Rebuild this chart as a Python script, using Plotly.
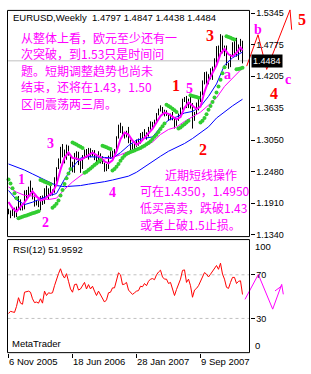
import pandas as pd
import plotly.graph_objects as go

W, H = 311, 374
START = pd.Timestamp("2005-11-06")

# ---------------- weekly EURUSD bars ----------------
opens = [1.1790, 1.1735, 1.1715, 1.1800, 1.1715, 1.1830, 1.1950, 1.1870, 1.1840, 1.2130,
         1.2140, 1.2170, 1.2150, 1.2030, 1.1920, 1.1920, 1.1890, 1.2030, 1.1910, 1.2170,
         1.2020, 1.2120, 1.2110, 1.2120, 1.2340, 1.2540, 1.2700, 1.2900, 1.2820, 1.2700,
         1.2940, 1.2790, 1.2620, 1.2580, 1.2790, 1.2810, 1.2620, 1.2650, 1.2760, 1.2860,
         1.2760, 1.2900, 1.2770, 1.2840, 1.2710, 1.2680, 1.2800, 1.2680, 1.2640, 1.2540,
         1.2580, 1.2720, 1.2740, 1.2840, 1.2830, 1.3100, 1.3280, 1.3290, 1.3130, 1.3140,
         1.3200, 1.3000, 1.2930, 1.2950, 1.2980, 1.2990, 1.3000, 1.3150, 1.3150, 1.3180,
         1.3120, 1.3260, 1.3340, 1.3370, 1.3360, 1.3510, 1.3580, 1.3620, 1.3530, 1.3500,
         1.3520, 1.3460, 1.3480, 1.3420, 1.3330, 1.3440, 1.3520, 1.3620, 1.3780, 1.3810,
         1.3670, 1.3780, 1.3660, 1.3440, 1.3550, 1.3630, 1.3780, 1.3880, 1.4070, 1.4260,
         1.4240, 1.4180, 1.4290, 1.4360, 1.4500, 1.4680, 1.4640, 1.4870, 1.4660, 1.4650,
         1.4430, 1.4400, 1.4590, 1.4750, 1.4780, 1.4620, 1.4680, 1.4797]
highs = [1.1810, 1.1780, 1.1840, 1.1830, 1.1850, 1.2040, 1.1980, 1.1900, 1.2140, 1.2150,
         1.2210, 1.2320, 1.2190, 1.2050, 1.1970, 1.1960, 1.2040, 1.2050, 1.2180, 1.2230,
         1.2180, 1.2290, 1.2160, 1.2380, 1.2560, 1.2720, 1.2930, 1.2980, 1.2880, 1.2970,
         1.2950, 1.2800, 1.2660, 1.2820, 1.2850, 1.2840, 1.2690, 1.2780, 1.2880, 1.2890,
         1.2910, 1.2900, 1.2870, 1.2870, 1.2760, 1.2850, 1.2810, 1.2760, 1.2640, 1.2620,
         1.2770, 1.2850, 1.2860, 1.2890, 1.3120, 1.3330, 1.3365, 1.3300, 1.3200, 1.3220,
         1.3290, 1.3060, 1.2990, 1.3010, 1.3060, 1.3080, 1.3180, 1.3200, 1.3250, 1.3190,
         1.3290, 1.3390, 1.3380, 1.3420, 1.3540, 1.3620, 1.3680, 1.3650, 1.3600, 1.3590,
         1.3520, 1.3530, 1.3560, 1.3440, 1.3450, 1.3530, 1.3640, 1.3800, 1.3830, 1.3850,
         1.3800, 1.3850, 1.3720, 1.3560, 1.3730, 1.3800, 1.3930, 1.4130, 1.4280, 1.4290,
         1.4240, 1.4350, 1.4380, 1.4530, 1.4750, 1.4760, 1.4966, 1.4940, 1.4760, 1.4760,
         1.4450, 1.4600, 1.4820, 1.4840, 1.4900, 1.4780, 1.4880, 1.4847]
lows = [1.1711, 1.1640, 1.1680, 1.1650, 1.1660, 1.1800, 1.1780, 1.1780, 1.1800, 1.1990,
        1.2040, 1.2110, 1.1980, 1.1850, 1.1870, 1.1840, 1.1780, 1.1880, 1.1900, 1.2010,
        1.1980, 1.2040, 1.2050, 1.2100, 1.2300, 1.2530, 1.2630, 1.2740, 1.2630, 1.2700,
        1.2770, 1.2530, 1.2470, 1.2460, 1.2690, 1.2600, 1.2460, 1.2530, 1.2720, 1.2730,
        1.2700, 1.2740, 1.2760, 1.2690, 1.2640, 1.2650, 1.2630, 1.2620, 1.2480, 1.2490,
        1.2530, 1.2710, 1.2720, 1.2760, 1.2820, 1.3080, 1.3180, 1.3110, 1.3080, 1.3100,
        1.3000, 1.2870, 1.2880, 1.2880, 1.2930, 1.2950, 1.2990, 1.3080, 1.3080, 1.3060,
        1.3120, 1.3240, 1.3260, 1.3300, 1.3350, 1.3500, 1.3570, 1.3520, 1.3480, 1.3490,
        1.3400, 1.3410, 1.3410, 1.3260, 1.3310, 1.3400, 1.3510, 1.3600, 1.3740, 1.3630,
        1.3630, 1.3620, 1.3260, 1.3400, 1.3520, 1.3590, 1.3740, 1.3860, 1.4060, 1.4070,
        1.4060, 1.4150, 1.4140, 1.4340, 1.4450, 1.4520, 1.4640, 1.4620, 1.4570, 1.4400,
        1.4340, 1.4370, 1.4570, 1.4580, 1.4560, 1.4500, 1.4640, 1.4438]
closes = [1.1735, 1.1715, 1.1800, 1.1715, 1.1830, 1.1950, 1.1870, 1.1840, 1.2130, 1.2140,
          1.2170, 1.2150, 1.2030, 1.1920, 1.1920, 1.1890, 1.2030, 1.1910, 1.2170, 1.2020,
          1.2120, 1.2110, 1.2120, 1.2340, 1.2540, 1.2700, 1.2900, 1.2820, 1.2700, 1.2940,
          1.2790, 1.2620, 1.2580, 1.2790, 1.2810, 1.2620, 1.2650, 1.2760, 1.2860, 1.2760,
          1.2900, 1.2770, 1.2840, 1.2710, 1.2680, 1.2800, 1.2680, 1.2640, 1.2540, 1.2580,
          1.2720, 1.2740, 1.2840, 1.2830, 1.3100, 1.3280, 1.3290, 1.3130, 1.3140, 1.3200,
          1.3000, 1.2930, 1.2950, 1.2980, 1.2990, 1.3000, 1.3150, 1.3150, 1.3180, 1.3120,
          1.3260, 1.3340, 1.3370, 1.3360, 1.3510, 1.3580, 1.3620, 1.3530, 1.3500, 1.3520,
          1.3460, 1.3480, 1.3420, 1.3330, 1.3440, 1.3520, 1.3620, 1.3780, 1.3810, 1.3670,
          1.3780, 1.3660, 1.3440, 1.3550, 1.3630, 1.3780, 1.3880, 1.4070, 1.4260, 1.4240,
          1.4180, 1.4290, 1.4360, 1.4500, 1.4680, 1.4640, 1.4870, 1.4660, 1.4650, 1.4430,
          1.4400, 1.4590, 1.4750, 1.4780, 1.4620, 1.4680, 1.4800, 1.4484]

# moving averages (week offset, value)
ma_fast_weeks = list(range(0, 117, 2)) + [117]
ma_fast = [1.1933, 1.1824, 1.1759, 1.1833, 1.1924, 1.2030, 1.2124, 1.2038, 1.1958, 1.1984,
           1.2050, 1.2108, 1.2246, 1.2520, 1.2732, 1.2830, 1.2726, 1.2718, 1.2690, 1.2740,
           1.2786, 1.2826, 1.2780, 1.2742, 1.2668, 1.2632, 1.2684, 1.2846, 1.3068, 1.3188,
           1.3152, 1.3044, 1.2970, 1.3014, 1.3094, 1.3172, 1.3254, 1.3368, 1.3488, 1.3548,
           1.3526, 1.3476, 1.3426, 1.3466, 1.3634, 1.3732, 1.3672, 1.3612, 1.3656, 1.3924,
           1.4126, 1.4266, 1.4402, 1.4610, 1.4700, 1.4602, 1.4564, 1.4628, 1.4726, 1.4673]
ma_slow_weeks = list(range(0, 113, 4)) + [117]
ma_mid_blue = [1.2141, 1.1973, 1.1886, 1.1929, 1.1990, 1.2046, 1.2086, 1.2345, 1.2560, 1.2728,
               1.2752, 1.2748, 1.2738, 1.2726, 1.2825, 1.2953, 1.3051, 1.3084, 1.3109, 1.3279,
               1.3412, 1.3471, 1.3541, 1.3570, 1.3658, 1.3842, 1.4066, 1.4406, 1.4538, 1.4643]
ma_thin_magenta = [1.2205, 1.2112, 1.2053, 1.2042, 1.2003, 1.1977, 1.2002, 1.2160, 1.2296, 1.2402,
                   1.2516, 1.2627, 1.2712, 1.2736, 1.2787, 1.2847, 1.2890, 1.2942, 1.3015, 1.3153,
                   1.3244, 1.3287, 1.3389, 1.3475, 1.3557, 1.3683, 1.3815, 1.4021, 1.4167, 1.4354]
ma_long_blue = [1.2620, 1.2570, 1.2510, 1.2440, 1.2370, 1.2300, 1.2230, 1.2210, 1.2215, 1.2230,
                1.2255, 1.2275, 1.2300, 1.2330, 1.2360, 1.2400, 1.2470, 1.2570, 1.2660, 1.2760,
                1.2850, 1.2920, 1.2990, 1.3080, 1.3180, 1.3290, 1.3450, 1.3560, 1.3670, 1.3790]

# parabolic SAR dots, one per bar
sar = [1.2340, 1.2265, 1.2180, 1.2090, 1.2000,
       1.1640, 1.1652, 1.1665, 1.1678, 1.1690, 1.1703, 1.1715, 1.1728, 1.1740, 1.1753, 1.1765,
       1.2330, 1.2315, 1.2300, 1.2285, 1.2270, 1.2255,
       1.1830, 1.1860, 1.1900, 1.1960, 1.2050, 1.2150, 1.2260, 1.2360, 1.2450, 1.2530,
       1.3010, 1.2990, 1.2970, 1.2950, 1.2930, 1.2910,
       1.2460, 1.2480, 1.2510, 1.2540, 1.2570, 1.2600, 1.2630, 1.2660, 1.2690,
       1.2950, 1.2935, 1.2920, 1.2905, 1.2890,
       1.2500, 1.2530, 1.2570, 1.2620, 1.2680, 1.2730, 1.2770, 1.2800, 1.2820, 1.2835,
       1.2850, 1.2865, 1.2880, 1.2895, 1.2910, 1.2930, 1.2950, 1.2975, 1.3000, 1.3030,
       1.3070, 1.3110, 1.3150, 1.3200, 1.3250, 1.3300, 1.3350,
       1.3690, 1.3670, 1.3645, 1.3620, 1.3590, 1.3560,
       1.3260, 1.3280, 1.3310, 1.3340, 1.3370, 1.3400,
       1.3860, 1.3850, 1.3840, 1.3830, 1.3815,
       1.3370, 1.3400, 1.3450, 1.3520, 1.3600, 1.3670, 1.3740, 1.3820, 1.3910, 1.4020,
       1.4140, 1.4260, 1.4370,
       1.4930, 1.4915, 1.4900, 1.4885, 1.4870,
       1.4330, 1.4335, 1.4345, 1.4360]

# RSI(12), one per bar
rsi = [34.5, 36.5, 36.0, 35.5, 41.0, 49.0, 44.0, 43.0, 54.0, 54.5,
       55.0, 54.0, 48.0, 44.5, 45.0, 44.0, 48.0, 44.0, 55.0, 51.0,
       53.5, 53.0, 53.5, 60.0, 66.0, 71.0, 75.5, 70.0, 67.0, 71.0,
       64.0, 57.0, 54.0, 61.0, 61.5, 56.0, 57.0, 60.0, 63.0, 57.0,
       61.0, 57.0, 59.5, 55.0, 51.0, 55.0, 52.0, 49.0, 45.0, 47.0,
       53.5, 54.0, 58.0, 58.0, 65.0, 71.8, 70.0, 61.0, 61.5, 63.0,
       56.0, 53.5, 52.0, 53.5, 55.0, 55.5, 59.5, 59.0, 62.0, 60.0,
       64.0, 66.0, 66.5, 65.5, 70.0, 72.5, 74.2, 68.0, 66.0, 66.0,
       62.0, 63.0, 56.0, 51.0, 56.5, 61.0, 66.0, 74.0, 74.5, 63.0,
       66.0, 60.0, 49.4, 56.0, 57.5, 60.0, 64.0, 69.0, 72.0, 70.6,
       68.0, 70.5, 73.0, 76.0, 78.5, 75.0, 80.6, 70.6, 66.0, 58.5,
       57.5, 63.0, 67.6, 67.6, 62.0, 64.0, 64.5, 51.96]

# hand-drawn projections (week offset, value)
wave_weeks = [119.1, 124.75, 129.1, 140.75, 141.6]
wave_prices = [1.4388, 1.4956, 1.4329, 1.5404, 1.5046]
rsi_proj_weeks = [118.25, 124.9, 132.1, 136.6, 137.4]
rsi_proj_vals = [47.5, 70.3, 38.5, 61.2, 52.1]
rsi_proj_tick_weeks = [133.25, 136.6]
rsi_proj_tick_vals = [55.2, 59.7]

price_ticks = [1.5345, 1.4775, 1.4205, 1.3635, 1.3050, 1.2480, 1.1910, 1.1340]
price_tick_text = ["1.5345", "1.4775", "1.4205", "1.3635", "1.3050", "1.2480", "1.1910", "1.1340"]
date_ticks = ["2005-11-06", "2006-06-18", "2007-01-28", "2007-09-09"]
date_tick_text = ["6 Nov 2005", "18 Jun 2006", "28 Jan 2007", "9 Sep 2007"]
rsi_ticks = [70, 30]
rsi_tick_text = ["70", "30"]
last_price = 1.4484
header = "EURUSD,Weekly\u00a0\u00a01.4797 1.4847 1.4438 1.4484"
rsi_label = "RSI(12) 51.9592"

note_left = ["从整体上看，欧元至少还有一", "次突破，到1.53只是时间问",
             "题。短期调整趋势也尚未", "结束，还将在1.43，1.50", "区间震荡两三周。"]
note_right_title = "近期短线操作"
note_right = ["可在1.4350，1.4950", "低买高卖，跌破1.43", "或者上破1.5止损。"]

# ---------------- geometry ----------------
BAR0_PX, PX_PER_WEEK = 8.5, 2.0
P_REF, PY_REF, PX_PER_UNIT = 1.5345, 13.3, 557.8
R0_PY, PX_PER_R = 354.0, 1.1
BOX_L, BOX_R = 7.5, 249.5
MAIN_T, MAIN_B = 10.5, 238.5
RSI_T, RSI_B = 241.5, 355.5


def wk(w):
    return START + pd.Timedelta(days=7 * w)


def fx(px):
    return px / W


def fy(py):
    return 1 - py / H


def price_at(py):
    return P_REF - (py - PY_REF) / PX_PER_UNIT


def rsi_at(py):
    return (R0_PY - py) / PX_PER_R


dates = [wk(i) for i in range(len(closes))]
x_range = [wk(-BAR0_PX / PX_PER_WEEK), wk((W - BAR0_PX) / PX_PER_WEEK)]

MAGENTA, BLUE, RED, GREEN = "#FF00FF", "#0000FF", "#FF0000", "#32CD32"
UI_FONT = "Liberation Sans"

fig = go.Figure()
fig.add_trace(go.Ohlc(x=dates, open=opens, high=highs, low=lows, close=closes,
                      increasing=dict(line=dict(color="black", width=1)),
                      decreasing=dict(line=dict(color="black", width=1)),
                      tickwidth=0.25, hoverinfo="skip", xaxis="x", yaxis="y"))


def line(weeks, vals, color, width, yaxis="y"):
    fig.add_trace(go.Scatter(x=[wk(w) for w in weeks], y=vals, mode="lines",
                             line=dict(color=color, width=width), hoverinfo="skip",
                             xaxis="x", yaxis=yaxis))


line(ma_slow_weeks, ma_long_blue, BLUE, 1)
line(ma_slow_weeks, ma_thin_magenta, MAGENTA, 1)
line(ma_slow_weeks, ma_mid_blue, BLUE, 1)
line(ma_fast_weeks, ma_fast, MAGENTA, 2)
fig.add_trace(go.Scatter(x=dates, y=sar, mode="markers",
                         marker=dict(color=GREEN, size=4, symbol="circle", line=dict(width=0)),
                         hoverinfo="skip", xaxis="x", yaxis="y"))
line(wave_weeks, wave_prices, RED, 1)
line(list(range(len(rsi))), rsi, RED, 1, "y2")
line(rsi_proj_weeks, rsi_proj_vals, MAGENTA, 1, "y2")
line(rsi_proj_tick_weeks, rsi_proj_tick_vals, MAGENTA, 1, "y2")

shapes = [
    dict(type="line", xref="paper", yref="y", x0=fx(BOX_L), x1=fx(BOX_R), y0=last_price, y1=last_price,
         line=dict(color="#C0C0C0", width=1), layer="below"),
    dict(type="line", xref="paper", yref="y2", x0=fx(BOX_L), x1=fx(BOX_R), y0=70, y1=70,
         line=dict(color="#C0C0C0", width=1, dash="3px,3px"), layer="below"),
    dict(type="line", xref="paper", yref="y2", x0=fx(BOX_L), x1=fx(BOX_R), y0=30, y1=30,
         line=dict(color="#C0C0C0", width=1, dash="3px,3px"), layer="below"),
    dict(type="rect", xref="paper", yref="paper", x0=fx(BOX_L), x1=fx(BOX_R), y0=fy(MAIN_B), y1=fy(MAIN_T),
         line=dict(color="black", width=1), layer="above"),
    dict(type="rect", xref="paper", yref="paper", x0=fx(BOX_L), x1=fx(BOX_R), y0=fy(RSI_B), y1=fy(RSI_T),
         line=dict(color="black", width=1), layer="above"),
]

ann = []


def text(t, px, py, size=9.5, color="black", family=UI_FONT, xanchor="left", bold=False, **kw):
    if bold:
        t = "<b>" + t + "</b>"
    ann.append(dict(text=t, x=fx(px), y=fy(py), xref="paper", yref="paper", showarrow=False,
                    xanchor=xanchor, yanchor="middle", font=dict(size=size, color=color, family=family), **kw))


text(header, 11, 18)
text(rsi_label, 11, 251.5)
text("MetaTrader", 10, 346)
text("100", 253, 248)
text("0", 253, 348)
ann.append(dict(text=f"{last_price:.4f}", x=fx(251), y=last_price, xref="paper", yref="y",
                showarrow=False, xanchor="left", yanchor="middle", bgcolor="black", borderpad=1,
                font=dict(size=9, color="white", family=UI_FONT)))

CJK = "Noto Sans CJK SC"
for k, s in enumerate(note_left):
    text(s, 19, 37.5 + 16.7 * k, size=12, color=MAGENTA, family=CJK)
text(note_right_title, 200.5, 175.5, size=12, color=MAGENTA, family=CJK, xanchor="center")
for k, s in enumerate(note_right):
    text(s, 138, 192.5 + 17 * k, size=12, color=MAGENTA, family=CJK)

SERIF = "Liberation Serif"
for t, px, py in [("3", 210.3, 35.5), ("1", 175.5, 86), ("2", 202.8, 151), ("4", 274, 94.5), ("5", 301.7, 20)]:
    text(t, px, py, size=16, color=RED, family=SERIF, xanchor="center", bold=True)
for t, px, py in [("1", 21.7, 181), ("2", 45.3, 224), ("3", 50.3, 145), ("4", 112, 194.5),
                  ("5", 189.3, 89), ("a", 227.3, 75.5), ("b", 257.5, 29.5), ("c", 287.5, 80)]:
    text(t, px, py, size=14, color=MAGENTA, family=SERIF, xanchor="center", bold=True)

axis_font = dict(size=9, color="black", family=UI_FONT)
fig.update_layout(
    width=W, height=H, margin=dict(l=0, r=0, t=0, b=0, pad=0),
    paper_bgcolor="white", plot_bgcolor="white", showlegend=False,
    shapes=shapes, annotations=ann,
    xaxis=dict(type="date", domain=[0, 1], range=[x_range[0], x_range[1]], anchor="y2",
               rangeslider=dict(visible=False), showgrid=False, zeroline=False, showline=False,
               ticks="outside", ticklen=4, tickcolor="black", tickwidth=1,
               tickvals=date_ticks, ticktext=date_tick_text, ticklabelposition="outside right",
               tickfont=dict(size=9.5, color="black", family=UI_FONT), fixedrange=True),
    yaxis=dict(domain=[fy(MAIN_B), 1], range=[price_at(MAIN_B), price_at(0)], anchor="free",
               position=fx(BOX_R), side="right", showgrid=False, zeroline=False, showline=False,
               ticks="outside", ticklen=4, tickcolor="black", tickvals=price_ticks,
               ticktext=price_tick_text, tickfont=axis_font, fixedrange=True),
    yaxis2=dict(domain=[fy(RSI_B), fy(RSI_T)], range=[rsi_at(RSI_B), rsi_at(RSI_T)], anchor="free",
                position=fx(BOX_R), side="right", showgrid=False, zeroline=False, showline=False,
                ticks="outside", ticklen=4, tickcolor="black", tickvals=rsi_ticks,
                ticktext=rsi_tick_text, tickfont=axis_font, fixedrange=True),
)

fig.write_html("out.html")
